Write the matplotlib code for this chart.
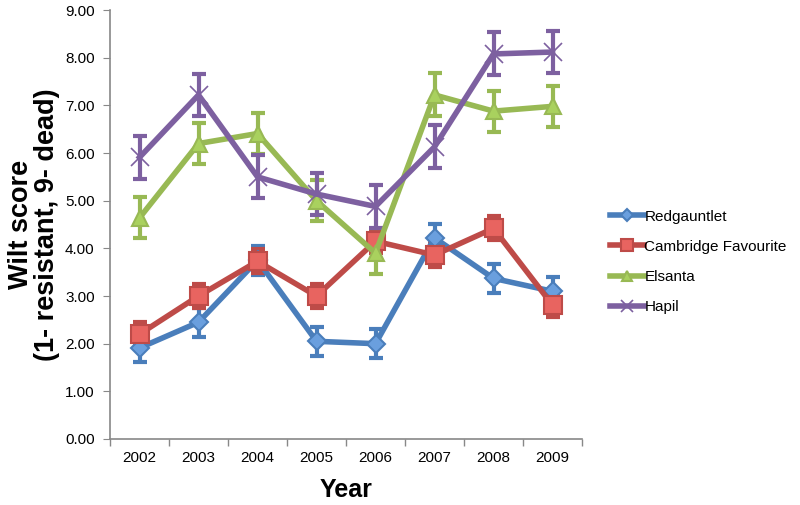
import matplotlib
matplotlib.use('Agg')
import matplotlib.pyplot as plt
import numpy as np
from matplotlib.ticker import FormatStrFormatter

plt.rcParams['font.family'] = ['Liberation Sans', 'DejaVu Sans']

# Data
years = ['2002', '2003', '2004', '2005', '2006', '2007', '2008', '2009']
redgauntlet = [1.91, 2.45, 3.75, 2.05, 2.0, 4.22, 3.37, 3.1]
redgauntlet_err = [0.3, 0.3, 0.3, 0.3, 0.3, 0.3, 0.3, 0.3]
cambridge = [2.2, 3.0, 3.73, 3.0, 4.15, 3.86, 4.42, 2.81]
cambridge_err = [0.25, 0.25, 0.25, 0.25, 0.25, 0.25, 0.25, 0.25]
elsanta = [4.64, 6.2, 6.41, 5.0, 3.9, 7.22, 6.88, 6.98]
elsanta_err = [0.43, 0.43, 0.43, 0.43, 0.43, 0.45, 0.43, 0.43]
hapil = [5.91, 7.22, 5.5, 5.14, 4.88, 6.13, 8.08, 8.12]
hapil_err = [0.45, 0.44, 0.45, 0.45, 0.45, 0.45, 0.45, 0.45]

series = [
    ('Redgauntlet', redgauntlet, redgauntlet_err, '#4A7EBB', '#6A9FDE', 'D', 9),
    ('Cambridge Favourite', cambridge, cambridge_err, '#BE4B48', '#E86460', 's', 13),
    ('Elsanta', elsanta, elsanta_err, '#98B954', '#A9D15E', '^', 12),
    ('Hapil', hapil, hapil_err, '#7D60A0', '#7D60A0', 'x', 13),
]

fig = plt.figure(figsize=(8, 5.05), dpi=100)
ax = fig.add_axes([0.1375, 0.1307, 0.59, 0.8493])

x = np.arange(len(years))
for name, vals, err, col, fill, mk, ms in series:
    # error bars first, then the line with markers on top
    ax.errorbar(x, vals, yerr=err, fmt='none', ecolor=col, elinewidth=3,
                capsize=5, capthick=3, zorder=3)
    ax.plot(x, vals, color=col, linewidth=4, marker=mk, markersize=ms,
            markerfacecolor=fill, markeredgecolor=col,
            markeredgewidth=1.5 if mk != 'x' else 1.2, label=name, zorder=4)

ax.set_xlim(-0.5, len(years) - 0.5)
ax.set_ylim(0, 9)
ax.set_yticks(np.arange(0, 9.01, 1))
ax.yaxis.set_major_formatter(FormatStrFormatter('%.2f'))
ax.set_xticks(x)
ax.set_xticklabels(years)
ax.set_xticks(np.arange(-0.5, len(years), 1), minor=True)
ax.tick_params(axis='x', which='major', length=0, labelsize=11, pad=9)
ax.tick_params(axis='x', which='minor', length=5, color='#888888', width=1)
ax.tick_params(axis='y', labelsize=11, length=5, color='#888888', pad=6)

for s in ['top', 'right']:
    ax.spines[s].set_visible(False)
for s in ['left', 'bottom']:
    ax.spines[s].set_color('#888888')
    ax.spines[s].set_linewidth(1.2)

ax.set_xlabel('Year', fontsize=18, fontweight='bold', labelpad=9)
ax.set_ylabel('Wilt score\n(1- resistant, 9- dead)', fontsize=19.5, fontweight='bold',
              labelpad=4, linespacing=1.0)

ax.legend(loc='center left', bbox_to_anchor=(1.03, 0.413), frameon=False,
          fontsize=11, handlelength=2.2, handletextpad=0.05, labelspacing=1.05,
          markerscale=0.65)

fig.savefig('out.png', dpi=100)
